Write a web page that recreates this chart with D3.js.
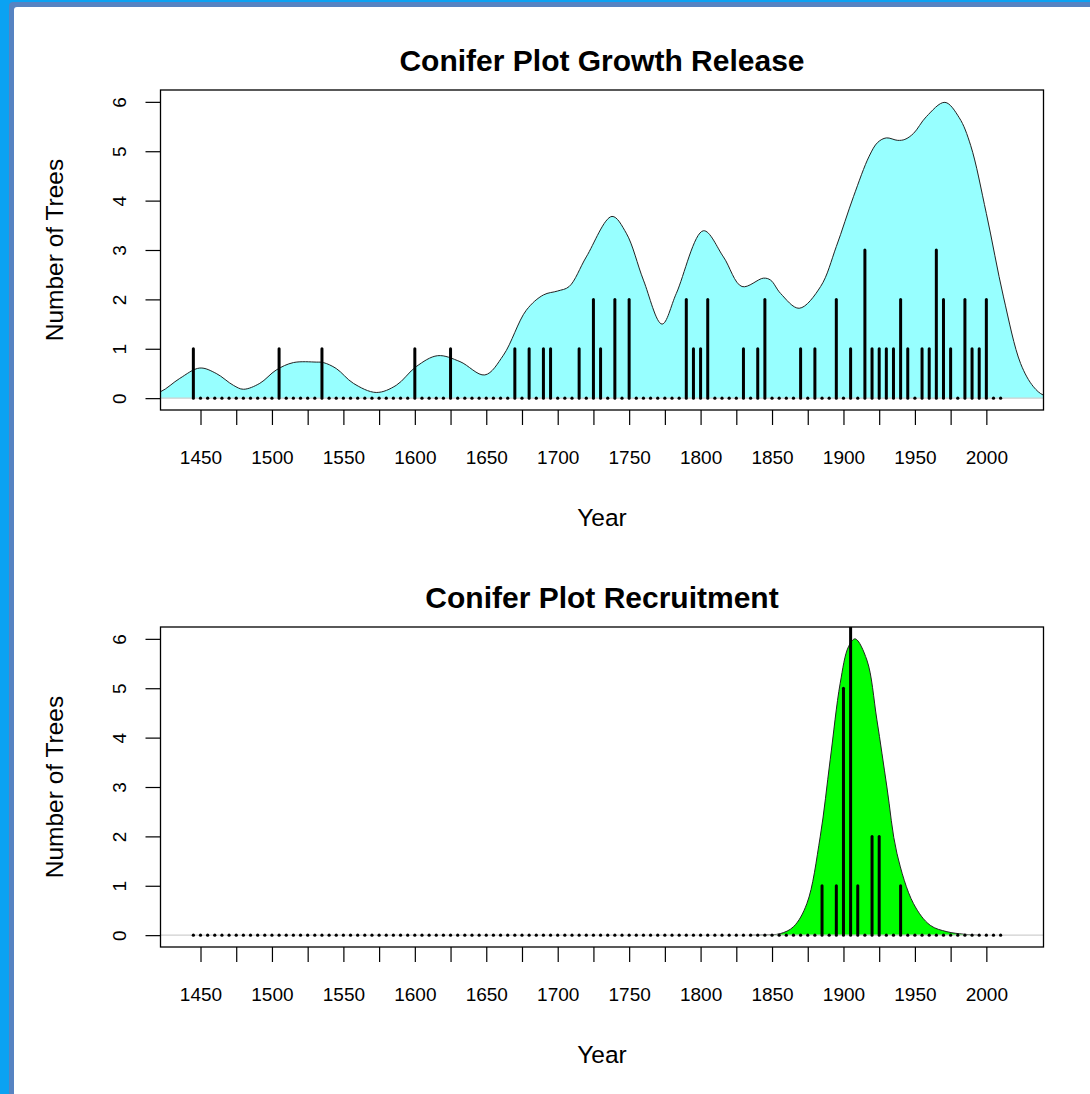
<!DOCTYPE html>
<html><head><meta charset="utf-8">
<script src="https://cdn.jsdelivr.net/npm/d3@7"></script>
<style>
body{margin:0;background:#fff;overflow:hidden}
svg{display:block}
text{font-family:"Liberation Sans",Arial,Helvetica,sans-serif;fill:#000}
</style>
</head><body>
<script>
// ---------- data ----------
const binYears = d3.range(1445, 2011, 5);           // 5-year bins shown on the axis
const xTicks = d3.range(1450, 2001, 25);
const xTickLabels = xTicks.map(v => v % 50 === 0 ? String(v) : "");
const yTicks = [0, 1, 2, 3, 4, 5, 6];

const releaseYears  = [1445,1505,1535,1600,1625,1670,1680,1690,1695,1715,1725,1730,1740,1750,1790,1795,1800,1805,1830,1840,1845,1870,1880,1895,1905,1915,1920,1925,1930,1935,1940,1945,1955,1960,1965,1970,1975,1985,1990,1995,2000];
const releaseCounts = [1,1,1,1,1,1,1,1,1,1,2,1,2,2,2,1,1,2,1,1,2,1,1,2,1,3,1,1,1,1,2,1,1,1,3,2,1,2,1,1,2];

const recruitYears  = [1885,1895,1900,1905,1910,1920,1925,1940];
const recruitCounts = [1,1,5,7,1,2,2,1];

// smoothed curves
const releaseCurveYears = [1410,1422,1435.5,1449.5,1461,1473,1480,1491.5,1503,1515,1531,1536,1545,1557,1573,1587,1601,1616,1631.6,1649,1662,1678,1690,1700,1708,1720,1738,1748,1760,1773,1783,1802,1816,1829,1844,1849,1856,1869,1884,1895,1907,1918,1924,1930,1938,1943,1949,1958,1971,1981,1989,2000,2012,2024,2033,2040,2050];
const releaseCurveVals  = [0.05,0.13,0.40,0.61,0.50,0.26,0.18,0.30,0.57,0.72,0.73,0.72,0.60,0.30,0.115,0.26,0.64,0.86,0.74,0.47,0.87,1.78,2.09,2.17,2.26,2.86,3.68,3.34,2.39,1.50,2.12,3.39,2.86,2.26,2.43,2.39,2.12,1.82,2.26,3.07,4.08,4.90,5.18,5.27,5.22,5.24,5.36,5.70,5.99,5.68,5.12,3.74,2.05,0.70,0.23,0.06,0.01];

const recruitCurveYears = [1835,1845,1855.7,1865,1874.4,1883.7,1890.7,1897.7,1903.5,1908.2,1916.4,1923.4,1930.4,1937.4,1949,1960.7,1972.4,1984,1995];
const recruitCurveVals  = [0.0,0.005,0.03,0.17,0.64,1.99,3.55,5.10,5.84,6.00,5.57,4.36,3.00,1.66,0.64,0.20,0.07,0.02,0.0];

const panels = [
  {title:"Conifer Plot Growth Release", years:releaseYears, counts:releaseCounts,
   cy:releaseCurveYears, cv:releaseCurveVals, fill:"#97FFFF", top:90, bottom:410},
  {title:"Conifer Plot Recruitment", years:recruitYears, counts:recruitCounts,
   cy:recruitCurveYears, cv:recruitCurveVals, fill:"#00FF00", top:627, bottom:947}
];

// ---------- drawing ----------
const W = 1090, H = 1094;
const svg = d3.select("body").append("svg").attr("width", W).attr("height", H);

// window frame
svg.append("rect").attr("x",0).attr("y",0).attr("width",W).attr("height",H).attr("fill","#0BA2F2");
svg.append("rect").attr("x",9).attr("y",2).attr("width",W).attr("height",H).attr("rx",4).attr("fill","#5683C2");
svg.append("rect").attr("x",14).attr("y",7).attr("width",W).attr("height",H).attr("rx",3).attr("fill","#ffffff");

const left = 160.5, right = 1043.5;
const x = d3.scaleLinear().domain([1422, 2040]).range([left, right]);
const curve = d3.curveCatmullRom.alpha(0.5);

panels.forEach((p, i) => {
  const y = d3.scaleLinear().domain([-0.24, 6.24]).range([p.bottom, p.top]);
  const g = svg.append("g");
  const clipId = "clip" + i;
  svg.append("clipPath").attr("id", clipId).append("rect")
    .attr("x", left).attr("y", p.top).attr("width", right - left).attr("height", p.bottom - p.top);
  const inner = g.append("g").attr("clip-path", `url(#${clipId})`);

  const pts = p.cy.map((yr, k) => [yr, p.cv[k]]);
  const area = d3.area().x(d => x(d[0])).y0(y(0)).y1(d => y(Math.max(0, d[1]))).curve(curve);
  const line = d3.line().x(d => x(d[0])).y(d => y(d[1])).curve(curve);
  inner.append("path").attr("d", area(pts)).attr("fill", p.fill);
  inner.append("path").attr("d", line(pts)).attr("fill", "none").attr("stroke", "#222").attr("stroke-width", 1);

  // zero reference line
  inner.append("line").attr("x1", left).attr("x2", right).attr("y1", y(0)).attr("y2", y(0))
    .attr("stroke", "#cfcfcf").attr("stroke-width", 1.2);

  // bars
  const countMap = new Map(p.years.map((yr, k) => [yr, p.counts[k]]));
  inner.selectAll("line.bar").data(p.years).enter().append("line").attr("class","bar")
    .attr("x1", d => x(d)).attr("x2", d => x(d))
    .attr("y1", y(0)).attr("y2", d => y(countMap.get(d)))
    .attr("stroke", "#000").attr("stroke-width", 3).attr("stroke-linecap", "round");
  // zero bins as dots
  inner.selectAll("circle.dot").data(binYears.filter(d => !countMap.has(d))).enter().append("circle")
    .attr("cx", d => x(d)).attr("cy", y(0)).attr("r", 1.6).attr("fill", "#000");

  // box
  g.append("rect").attr("x", left).attr("y", p.top).attr("width", right - left).attr("height", p.bottom - p.top)
    .attr("fill", "none").attr("stroke", "#000").attr("stroke-width", 1.3);

  // x axis
  const xAxis = d3.axisBottom(x).tickValues(xTicks).tickSize(15).tickPadding(26)
    .tickFormat((d, k) => xTickLabels[k]);
  const xa = g.append("g").attr("transform", `translate(0,${p.bottom})`).call(xAxis);
  xa.select(".domain").remove();
  xa.selectAll("line").attr("stroke", "#000").attr("stroke-width", 1.2);
  xa.selectAll("text").attr("font-size", 19).attr("font-family", '"Liberation Sans",Arial,sans-serif').attr("fill","#000");

  // y axis
  const yAxis = d3.axisLeft(y).tickValues(yTicks).tickSize(15).tickFormat(d3.format("d"));
  const ya = g.append("g").attr("transform", `translate(${left},0)`).call(yAxis);
  ya.select(".domain").remove();
  ya.selectAll("line").attr("stroke", "#000").attr("stroke-width", 1.2);
  ya.selectAll("text").attr("font-size", 19).attr("font-family", '"Liberation Sans",Arial,sans-serif').attr("fill","#000")
    .attr("x", null)
    .attr("text-anchor", "middle")
    .attr("transform", "translate(-35,0) rotate(-90)")
    .attr("dy", "0");

  // titles
  g.append("text").attr("x", (left + right) / 2).attr("y", p.top - 19)
    .attr("text-anchor", "middle").attr("font-weight", "bold").attr("font-size", 30).text(p.title);
  g.append("text").attr("x", (left + right) / 2).attr("y", p.bottom + 116)
    .attr("text-anchor", "middle").attr("font-size", 24.5).text("Year");
  g.append("text").attr("transform", `translate(63,${(p.top + p.bottom) / 2}) rotate(-90)`)
    .attr("text-anchor", "middle").attr("font-size", 24.5).text("Number of Trees");
});
</script>
</body></html>
